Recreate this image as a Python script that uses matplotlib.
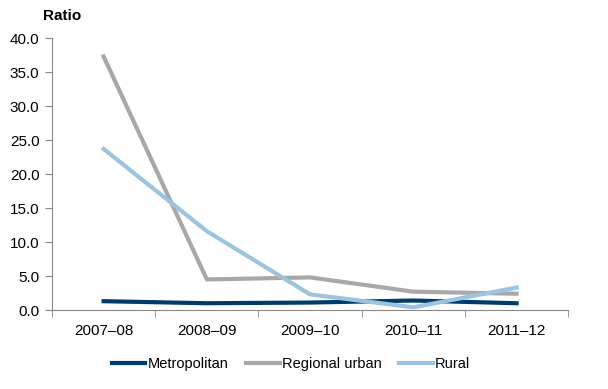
import matplotlib.pyplot as plt
import numpy as np

years = ["2007–08", "2008–09", "2009–10", "2010–11", "2011–12"]
metropolitan = [1.3, 1.0, 1.1, 1.4, 1.0]
regional_urban = [37.3, 4.5, 4.8, 2.7, 2.4]
rural = [23.7, 11.6, 2.3, 0.4, 3.3]

plt.rcParams['font.family'] = ['Liberation Sans', 'DejaVu Sans']

fig = plt.figure(figsize=(6.08, 3.89), dpi=100)
ax = fig.add_axes([0.0855, 0.203, 0.849, 0.699])

x = np.arange(len(years))
ax.plot(x, metropolitan, color='#003c69', lw=3, label='Metropolitan')
ax.plot(x, regional_urban, color='#a8a8a8', lw=3, label='Regional urban')
ax.plot(x, rural, color='#9cc3e0', lw=3, label='Rural')

ax.set_xlim(-0.5, len(years) - 0.5)
ax.set_ylim(0, 40)
ax.set_yticks(np.arange(0, 41, 5))
ax.set_yticklabels([f"{v:.1f}" for v in np.arange(0, 41, 5)], fontsize=11)
ax.set_xticks(x)
ax.set_xticklabels(years, fontsize=11)
ax.set_xticks(np.arange(-0.5, len(years), 1), minor=True)
ax.tick_params(axis='x', which='major', length=0, pad=10)
ax.tick_params(axis='x', which='minor', length=5, color='#888888')
ax.tick_params(axis='y', length=5, color='#888888', pad=4)

for s in ['top', 'right']:
    ax.spines[s].set_visible(False)
for s in ['left', 'bottom']:
    ax.spines[s].set_color('#888888')

fig.text(0.07, 0.96, "Ratio", fontsize=11, fontweight='bold', ha='left', va='center')

ax.legend(loc='upper center', bbox_to_anchor=(0.463, -0.125), ncol=3, frameon=False,
          fontsize=10.5, handlelength=2.3, handletextpad=0.15, columnspacing=1.2)

fig.savefig("out.png", dpi=100)
